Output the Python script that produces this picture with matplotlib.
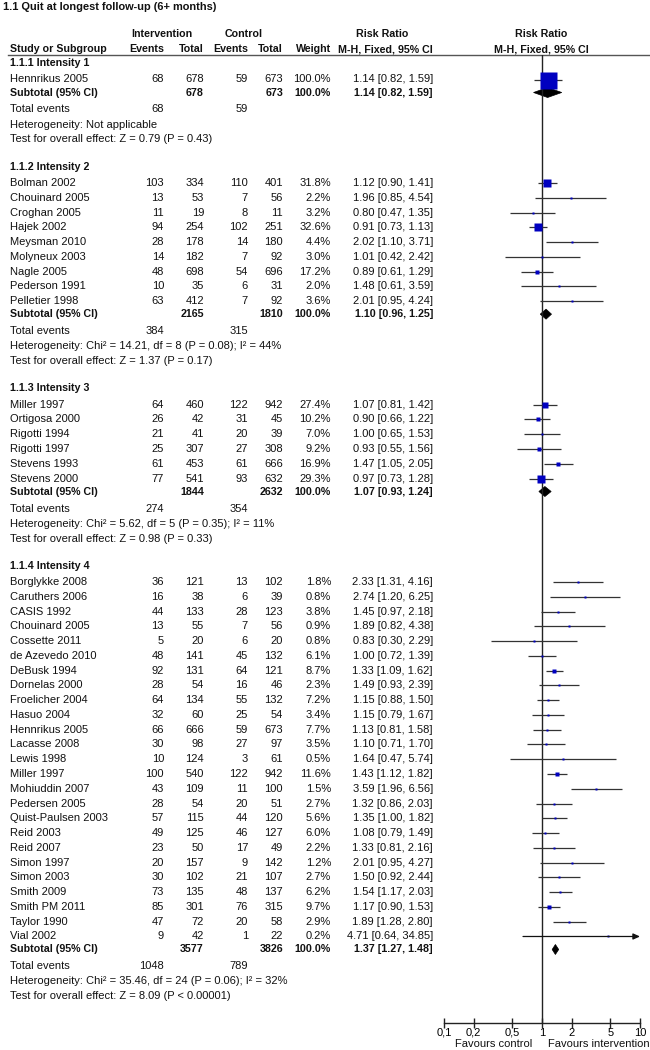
import matplotlib
matplotlib.use("Agg")
import matplotlib.pyplot as plt
from matplotlib.patches import Polygon

plt.rcParams['font.family'] = ['Liberation Sans', 'DejaVu Sans']

# ---------------- data ----------------
title = "1.1 Quit at longest follow-up (6+ months)"
group_titles = ["1.1.1 Intensity 1", "1.1.2 Intensity 2", "1.1.3 Intensity 3", "1.1.4 Intensity 4"]

g1_study = ["Hennrikus 2005"]
g1_ev_int = [68]
g1_n_int = [678]
g1_ev_ctl = [59]
g1_n_ctl = [673]
g1_weight = [100.0]
g1_rr = [1.14]
g1_lo = [0.82]
g1_hi = [1.59]

g2_study = ["Bolman 2002", "Chouinard 2005", "Croghan 2005", "Hajek 2002", "Meysman 2010",
            "Molyneux 2003", "Nagle 2005", "Pederson 1991", "Pelletier 1998"]
g2_ev_int = [103, 13, 11, 94, 28, 14, 48, 10, 63]
g2_n_int = [334, 53, 19, 254, 178, 182, 698, 35, 412]
g2_ev_ctl = [110, 7, 8, 102, 14, 7, 54, 6, 7]
g2_n_ctl = [401, 56, 11, 251, 180, 92, 696, 31, 92]
g2_weight = [31.8, 2.2, 3.2, 32.6, 4.4, 3.0, 17.2, 2.0, 3.6]
g2_rr = [1.12, 1.96, 0.80, 0.91, 2.02, 1.01, 0.89, 1.48, 2.01]
g2_lo = [0.90, 0.85, 0.47, 0.73, 1.10, 0.42, 0.61, 0.61, 0.95]
g2_hi = [1.41, 4.54, 1.35, 1.13, 3.71, 2.42, 1.29, 3.59, 4.24]

g3_study = ["Miller 1997", "Ortigosa 2000", "Rigotti 1994", "Rigotti 1997", "Stevens 1993", "Stevens 2000"]
g3_ev_int = [64, 26, 21, 25, 61, 77]
g3_n_int = [460, 42, 41, 307, 453, 541]
g3_ev_ctl = [122, 31, 20, 27, 61, 93]
g3_n_ctl = [942, 45, 39, 308, 666, 632]
g3_weight = [27.4, 10.2, 7.0, 9.2, 16.9, 29.3]
g3_rr = [1.07, 0.90, 1.00, 0.93, 1.47, 0.97]
g3_lo = [0.81, 0.66, 0.65, 0.55, 1.05, 0.73]
g3_hi = [1.42, 1.22, 1.53, 1.56, 2.05, 1.28]

g4_study = ["Borglykke 2008", "Caruthers 2006", "CASIS 1992", "Chouinard 2005", "Cossette 2011",
            "de Azevedo 2010", "DeBusk 1994", "Dornelas 2000", "Froelicher 2004", "Hasuo 2004",
            "Hennrikus 2005", "Lacasse 2008", "Lewis 1998", "Miller 1997", "Mohiuddin 2007",
            "Pedersen 2005", "Quist-Paulsen 2003", "Reid 2003", "Reid 2007", "Simon 1997",
            "Simon 2003", "Smith 2009", "Smith PM 2011", "Taylor 1990", "Vial 2002"]
g4_ev_int = [36, 16, 44, 13, 5, 48, 92, 28, 64, 32, 66, 30, 10, 100, 43, 28, 57, 49, 23, 20, 30, 73, 85, 47, 9]
g4_n_int = [121, 38, 133, 55, 20, 141, 131, 54, 134, 60, 666, 98, 124, 540, 109, 54, 115, 125, 50, 157, 102, 135, 301, 72, 42]
g4_ev_ctl = [13, 6, 28, 7, 6, 45, 64, 16, 55, 25, 59, 27, 3, 122, 11, 20, 44, 46, 17, 9, 21, 48, 76, 20, 1]
g4_n_ctl = [102, 39, 123, 56, 20, 132, 121, 46, 132, 54, 673, 97, 61, 942, 100, 51, 120, 127, 49, 142, 107, 137, 315, 58, 22]
g4_weight = [1.8, 0.8, 3.8, 0.9, 0.8, 6.1, 8.7, 2.3, 7.2, 3.4, 7.7, 3.5, 0.5, 11.6, 1.5, 2.7, 5.6, 6.0, 2.2, 1.2, 2.7, 6.2, 9.7, 2.9, 0.2]
g4_rr = [2.33, 2.74, 1.45, 1.89, 0.83, 1.00, 1.33, 1.49, 1.15, 1.15, 1.13, 1.10, 1.64, 1.43, 3.59, 1.32, 1.35, 1.08, 1.33, 2.01, 1.50, 1.54, 1.17, 1.89, 4.71]
g4_lo = [1.31, 1.20, 0.97, 0.82, 0.30, 0.72, 1.09, 0.93, 0.88, 0.79, 0.81, 0.71, 0.47, 1.12, 1.96, 0.86, 1.00, 0.79, 0.81, 0.95, 0.92, 1.17, 0.90, 1.28, 0.64]
g4_hi = [4.16, 6.25, 2.18, 4.38, 2.29, 1.39, 1.62, 2.39, 1.50, 1.67, 1.58, 1.70, 5.74, 1.82, 6.56, 2.03, 1.82, 1.49, 2.16, 4.27, 2.44, 2.03, 1.53, 2.80, 34.85]

sub_n_int = [678, 2165, 1844, 3577]
sub_n_ctl = [673, 1810, 2632, 3826]
sub_rr = [1.14, 1.10, 1.07, 1.37]
sub_lo = [0.82, 0.96, 0.93, 1.27]
sub_hi = [1.59, 1.25, 1.24, 1.48]
tot_ev_int = [68, 384, 274, 1048]
tot_ev_ctl = [59, 315, 354, 789]
het_text = ["Heterogeneity: Not applicable",
            "Heterogeneity: Chi² = 14.21, df = 8 (P = 0.08); I² = 44%",
            "Heterogeneity: Chi² = 5.62, df = 5 (P = 0.35); I² = 11%",
            "Heterogeneity: Chi² = 35.46, df = 24 (P = 0.06); I² = 32%"]
test_text = ["Test for overall effect: Z = 0.79 (P = 0.43)",
             "Test for overall effect: Z = 1.37 (P = 0.17)",
             "Test for overall effect: Z = 0.98 (P = 0.33)",
             "Test for overall effect: Z = 8.09 (P < 0.00001)"]

x_ticks = [0.1, 0.2, 0.5, 1, 2, 5, 10]
x_ticklabels = ["0,1", "0,2", "0,5", "1", "2", "5", "10"]
left_label = "Favours control"
right_label = "Favours intervention"

groups = [
    (g1_study, g1_ev_int, g1_n_int, g1_ev_ctl, g1_n_ctl, g1_weight, g1_rr, g1_lo, g1_hi),
    (g2_study, g2_ev_int, g2_n_int, g2_ev_ctl, g2_n_ctl, g2_weight, g2_rr, g2_lo, g2_hi),
    (g3_study, g3_ev_int, g3_n_int, g3_ev_ctl, g3_n_ctl, g3_weight, g3_rr, g3_lo, g3_hi),
    (g4_study, g4_ev_int, g4_n_int, g4_ev_ctl, g4_n_ctl, g4_weight, g4_rr, g4_lo, g4_hi),
]

# ---------------- layout (pixel units) ----------------
W, H = 650, 1050
FS = 8.0
FSB = 7.7
fig = plt.figure(figsize=(W / 100, H / 100), dpi=100)
ax = fig.add_axes([0, 0, 1, 1])
ax.set_xlim(0, W)
ax.set_ylim(H, 0)
ax.axis('off')

y_top_line = 55
y_axis = 1023
fx0, fx1 = 444, 640
axf = fig.add_axes([fx0 / W, (H - y_axis) / H, (fx1 - fx0) / W, (y_axis - y_top_line) / H])
axf.set_xscale('log')
axf.set_xlim(0.1, 10)
axf.set_ylim(y_axis, y_top_line)
axf.patch.set_alpha(0)
for s in ['top', 'right', 'left']:
    axf.spines[s].set_visible(False)
axf.spines['bottom'].set_color('#222222')
axf.spines['bottom'].set_linewidth(1.0)
axf.set_yticks([])
axf.set_xticks(x_ticks)
axf.set_xticklabels(x_ticklabels, fontsize=FS)
axf.minorticks_off()
axf.tick_params(axis='x', direction='inout', length=7, width=1.0, pad=0, color='#222222')
axf.axvline(1, color='#222222', lw=1.0)

# columns
X_NAME = 10
X_EV_I, X_N_I, X_EV_C, X_N_C, X_W, X_CI = 164, 204, 248, 283, 331, 433

TXT = '#111111'
BLUE = '#0000C0'
LINE = '#333333'

def t(x, y, s, ha='left', bold=False, size=None):
    if size is None:
        size = FSB if bold else FS
    ax.text(x, y, s, ha=ha, va='center', fontsize=size, color=TXT,
            fontweight='bold' if bold else 'normal')

# header
t(3, 7, title, bold=True, size=7.9)
t(162, 34, "Intervention", ha='center', bold=True)
t(244, 34, "Control", ha='center', bold=True)
t(382, 34, "Risk Ratio", ha='center', bold=True)
t(541, 34, "Risk Ratio", ha='center', bold=True)
t(X_NAME, 49, "Study or Subgroup", bold=True)
t(X_EV_I, 49, "Events", ha='right', bold=True)
t(X_N_I, 49, "Total", ha='right', bold=True)
t(X_EV_C, 49, "Events", ha='right', bold=True)
t(X_N_C, 49, "Total", ha='right', bold=True)
t(X_W, 49, "Weight", ha='right', bold=True)
t(X_CI, 49, "M-H, Fixed, 95% CI", ha='right', bold=True)
t(541, 49, "M-H, Fixed, 95% CI", ha='center', bold=True)
ax.plot([8, W], [y_top_line, y_top_line], color='#555555', lw=1.0)

STEP = 14.77
y = 63.0
for gi, g in enumerate(groups):
    study, ev_i, n_i, ev_c, n_c, wt, rr, lo, hi = g
    t(X_NAME, y, group_titles[gi], bold=True)
    y += 16.5
    for k in range(len(study)):
        t(X_NAME, y, study[k])
        t(X_EV_I, y, str(ev_i[k]), ha='right')
        t(X_N_I, y, str(n_i[k]), ha='right')
        t(X_EV_C, y, str(ev_c[k]), ha='right')
        t(X_N_C, y, str(n_c[k]), ha='right')
        t(X_W, y, f"{wt[k]:.1f}%", ha='right')
        t(X_CI, y, f"{rr[k]:.2f} [{lo[k]:.2f}, {hi[k]:.2f}]", ha='right')
        side_px = max(2.0, 17.0 * (wt[k] / 100.0) ** 0.7)
        if hi[k] > 10:
            axf.annotate('', xy=(10, y), xytext=(lo[k], y),
                         arrowprops=dict(arrowstyle='-|>,head_length=0.4,head_width=0.18',
                                         color='#111111', lw=0.9, shrinkA=0, shrinkB=0),
                         annotation_clip=False)
        else:
            axf.plot([lo[k], hi[k]], [y, y], color=LINE, lw=0.9, solid_capstyle='butt')
        axf.plot(rr[k], y, 's', ms=side_px * 0.72, color=BLUE, mec='none')
        if k < len(study) - 1:
            y += STEP
    y += 13.0
    t(X_NAME, y, "Subtotal (95% CI)", bold=True)
    t(X_N_I, y, str(sub_n_int[gi]), ha='right', bold=True)
    t(X_N_C, y, str(sub_n_ctl[gi]), ha='right', bold=True)
    t(X_W, y, "100.0%", ha='right', bold=True)
    t(X_CI, y, f"{sub_rr[gi]:.2f} [{sub_lo[gi]:.2f}, {sub_hi[gi]:.2f}]", ha='right', bold=True)
    axf.add_patch(Polygon([(sub_lo[gi], y), (sub_rr[gi], y - 5), (sub_hi[gi], y), (sub_rr[gi], y + 5)],
                          closed=True, facecolor='black', edgecolor='black', lw=0.5))
    y += 17.0
    t(X_NAME, y, "Total events")
    t(X_EV_I, y, str(tot_ev_int[gi]), ha='right')
    t(X_EV_C, y, str(tot_ev_ctl[gi]), ha='right')
    y += 15.0
    t(X_NAME, y, het_text[gi])
    y += 15.0
    t(X_NAME, y, test_text[gi])
    y += 27.0

t(532, 1044, left_label, ha='right')
t(548, 1044, right_label, ha='left')

fig.savefig("out.png", dpi=100)
